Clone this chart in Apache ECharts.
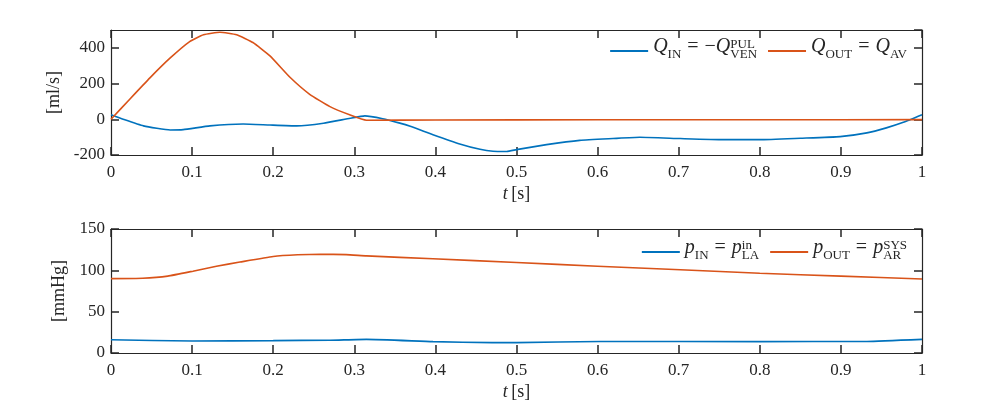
<!DOCTYPE html>
<html>
<head>
    <meta charset="utf-8">
    <title>Q / p</title>
    <script src="https://cdn.jsdelivr.net/npm/echarts@6.0.0/dist/echarts.min.js"></script>
    <style>
        html, body { margin: 0; padding: 0; background: #fff; }
        #chart1 { width: 997px; height: 417px; }
    </style>
</head>
<body>
<div id="chart1"></div>
<script type="text/javascript">
    // 流量 [ml/s]
    var tQin  = [0, 0.015, 0.04, 0.073, 0.089, 0.122, 0.163, 0.196, 0.229, 0.262, 0.295, 0.313, 0.335, 0.355, 0.369, 0.397, 0.43, 0.455, 0.471, 0.488, 0.5, 0.537, 0.578, 0.619, 0.652, 0.702, 0.755, 0.8, 0.85, 0.899, 0.932, 0.956, 0.977, 1];
    var qIn   = [25, 0, -37, -60, -58, -37, -26, -32, -37, -22, 6, 19, 3, -20, -39, -86, -138, -168, -179, -180, -170, -142, -118, -108, -101, -108, -114, -114, -106, -97, -76, -48, -17, 26];
    var tQout = [0, 0.0234, 0.048, 0.0727, 0.097, 0.114, 0.1344, 0.155, 0.175, 0.196, 0.221, 0.245, 0.27, 0.295, 0.315, 0.4, 0.6, 0.8, 1];
    var qOut  = [0, 114, 232, 342, 435, 473, 487, 473, 430, 355, 234, 140, 71, 24, -5, -4, -3, -3, -2];

    // 压力 [mmHg]
    var tPin  = [0, 0.1, 0.2, 0.27, 0.315, 0.397, 0.47, 0.5, 0.603, 0.8, 0.932, 1];
    var pIn   = [16, 14.5, 15, 15.5, 16.5, 13.8, 12.5, 12.6, 14, 13.8, 14, 16.5];
    var tPout = [0, 0.039, 0.07, 0.101, 0.13, 0.159, 0.2, 0.23, 0.258, 0.29, 0.315, 0.397, 0.5, 0.6, 0.702, 0.8, 0.9, 1];
    var pOut  = [90, 90.4, 93, 99, 105, 110, 116.7, 118.8, 119.5, 119, 117.5, 114, 109.5, 105, 100.7, 96.5, 93, 89.5];

    var BLUE = '#0072BD', ORANGE = '#D95319', AX = '#262626';
    var FONT = 'Liberation Serif';

    function pairs(xs, ys) {
        return xs.map(function (x, i) { return [x, ys[i]]; });
    }

    // 图例富文本（上下标）
    var rich = {
        it: { fontFamily: FONT, fontStyle: 'italic', fontSize: 20, lineHeight: 28, color: AX },
        rm: { fontFamily: FONT, fontSize: 20, lineHeight: 28, color: AX },
        eq: { fontFamily: FONT, fontSize: 20, lineHeight: 28, color: AX, padding: [0, 6, 0, 6] },
        sb: { fontFamily: FONT, fontSize: 13, lineHeight: 19, verticalAlign: 'bottom', color: AX },
        sbl: { fontFamily: FONT, fontSize: 13, lineHeight: 13, verticalAlign: 'bottom', color: AX },
        spz: { fontFamily: FONT, fontSize: 13, lineHeight: 13, verticalAlign: 'top', width: 0, padding: [5, 0, 0, 0], color: AX }
    };
    var nameRich = {
        it: { fontFamily: FONT, fontStyle: 'italic', fontSize: 18, color: AX },
        rm: { fontFamily: FONT, fontSize: 18, color: AX }
    };

    var legendText = {
        Qin:  '{it|Q}{sb|IN}{eq|=}{rm|−}{it|Q}{spz|PUL}{sbl|VEN}',
        Qout: '{it|Q}{sb|OUT}{eq|=}{it|Q}{sb|AV}',
        pin:  '{it|p}{sb|IN}{eq|=}{it|p}{spz|in}{sbl|LA}',
        pout: '{it|p}{sb|OUT}{eq|=}{it|p}{spz|SYS}{sbl|AR}'
    };

    // 坐标框：四边都画轴线，刻度朝内
    function axLine() { return { show: true, onZero: false, lineStyle: { color: AX, width: 1.2 } }; }
    function axTick() { return { show: true, inside: true, length: 8, lineStyle: { color: AX, width: 1.5 } }; }

    function xAxisMain(idx) {
        return {
            type: 'value', gridIndex: idx, position: 'bottom', min: 0, max: 1, interval: 0.1,
            name: '{it|t} {rm|[s]}', nameLocation: 'middle', nameGap: 30,
            nameTextStyle: { rich: nameRich },
            axisLine: axLine(), axisTick: axTick(),
            axisLabel: { margin: 9, color: AX, fontFamily: FONT, fontSize: 17 },
            splitLine: { show: false }
        };
    }
    function xAxisBox(idx) {
        return {
            type: 'value', gridIndex: idx, position: 'top', min: 0, max: 1, interval: 0.1,
            axisLine: axLine(), axisTick: axTick(),
            axisLabel: { show: false }, splitLine: { show: false }
        };
    }
    function yAxisMain(idx, min, max, step, name) {
        return {
            type: 'value', gridIndex: idx, position: 'left', min: min, max: max, interval: step,
            name: name, nameLocation: 'middle', nameGap: 42, nameRotate: 90,
            nameTextStyle: { color: AX, fontFamily: FONT, fontSize: 18 },
            axisLine: axLine(), axisTick: axTick(),
            axisLabel: { margin: 6, color: AX, fontFamily: FONT, fontSize: 17, showMaxLabel: max % step === 0 },
            splitLine: { show: false }
        };
    }
    function yAxisBox(idx, min, max, step) {
        return {
            type: 'value', gridIndex: idx, position: 'right', min: min, max: max, interval: step,
            axisLine: axLine(), axisTick: axTick(),
            axisLabel: { show: false }, splitLine: { show: false }
        };
    }
    function line(name, data, color, xi, yi) {
        return {
            name: name, type: 'line', data: data, xAxisIndex: xi, yAxisIndex: yi,
            symbol: 'none', smooth: 0.15, animation: false,
            lineStyle: { color: color, width: 1.6 }, itemStyle: { color: color }
        };
    }
    function legend(names, top, right) {
        return {
            data: names, top: top, right: right, padding: 0, itemGap: 11,
            icon: 'rect', itemWidth: 38, itemHeight: 2, selectedMode: false,
            textStyle: { fontFamily: FONT, fontSize: 20, color: AX, rich: rich, padding: [0, 0, 8, 0] },
            formatter: function (n) { return legendText[n]; }
        };
    }

    var myChart = echarts.init(document.getElementById('chart1'));

    var option = {
        backgroundColor: '#fff',
        animation: false,
        grid: [
            { left: 111, right: 75, top: 30, height: 125 },
            { left: 111, right: 75, top: 229, height: 124 }
        ],
        legend: [legend(['Qin', 'Qout'], 33, 90), legend(['pin', 'pout'], 234, 90)],
        xAxis: [xAxisMain(0), xAxisBox(0), xAxisMain(1), xAxisBox(1)],
        yAxis: [
            yAxisMain(0, -200, 500, 200, '[ml/s]'), yAxisBox(0, -200, 500, 200),
            yAxisMain(1, 0, 150, 50, '[mmHg]'), yAxisBox(1, 0, 150, 50)
        ],
        series: [
            line('Qin', pairs(tQin, qIn), BLUE, 0, 0),
            line('Qout', pairs(tQout, qOut), ORANGE, 0, 0),
            line('pin', pairs(tPin, pIn), BLUE, 2, 2),
            line('pout', pairs(tPout, pOut), ORANGE, 2, 2)
        ]
    };

    myChart.setOption(option);
</script>
</body>
</html>
